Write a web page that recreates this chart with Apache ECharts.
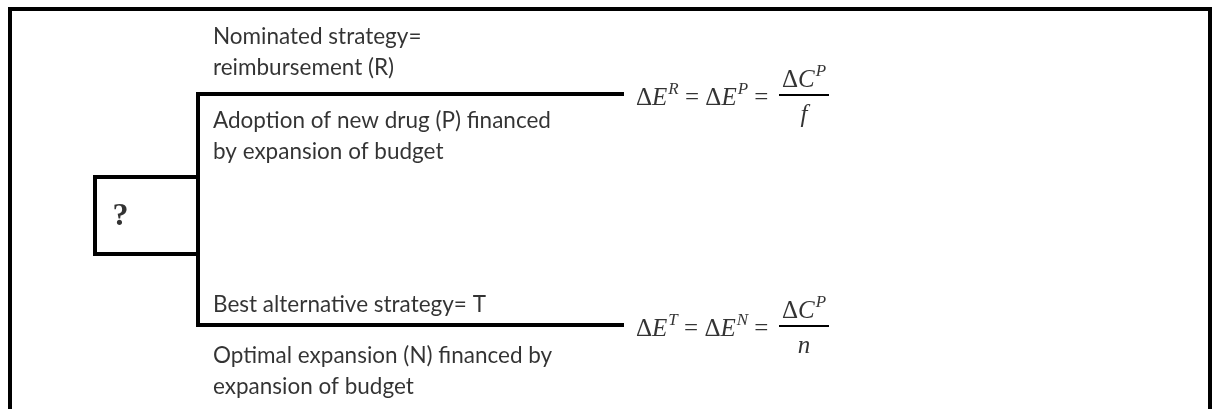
<!DOCTYPE html>
<html><head><meta charset="utf-8">
<script src="https://cdn.jsdelivr.net/npm/echarts@6/dist/echarts.min.js"></script>
<style>html,body{margin:0;padding:0;background:#fff}#c{width:1218px;height:409px}</style>
</head><body><div id="c"></div>
<script>
// ---- data ----
const rootLabel = '?';
const strategyLabels = ['Nominated strategy=\nreimbursement (R)', 'Best alternative strategy= T'];
const financingLabels = ['Adoption of new drug (P) financed\nby expansion of budget', 'Optimal expansion (N) financed by\nexpansion of budget'];
const effectSuperscripts = [['R', 'P'], ['T', 'N']];
const costSuperscripts = ['P', 'P'];
const denominators = ['f', 'n'];

// ---- layout (pixel units on hidden axes) ----
const W = 1218, H = 409;
const frame = { x0: 10, x1: 1210, y0: 9, y1: 430 };
const box = { x0: 95, x1: 198, y0: 177, y1: 254 };
const trunkX = 198, branchEnd = 622;
const branchY = [94, 325];
const textX = 213;
const aboveOffset = [-42, -20];
const belowOffset = [42, 46];
const formulaX = 636;
const fracX0 = 780, fracX1 = 828;
const formulaDy = 2, numDy = -18, denDy = 17;

const textFont = 'Lato';
const mathFont = 'Liberation Serif';

function seg(pts, w) {
  return { type: 'line', data: pts, symbol: 'none', silent: true, animation: false,
    lineStyle: { color: '#000', width: w, cap: 'square', join: 'miter' } };
}
const series = [];
series.push(seg([[frame.x0, frame.y1], [frame.x0, frame.y0], [frame.x1, frame.y0], [frame.x1, frame.y1]], 4));
series.push(seg([[box.x1, box.y0], [box.x0, box.y0], [box.x0, box.y1], [box.x1, box.y1]], 4));
series.push(seg([[branchEnd, branchY[0]], [trunkX, branchY[0]], [trunkX, branchY[1]], [branchEnd, branchY[1]]], 4));
branchY.forEach((y) => series.push(seg([[fracX0, y + formulaDy - 1], [fracX1, y + formulaDy - 1]], 2)));

function textSeries(points) {
  return { type: 'scatter', symbolSize: 0, silent: true, animation: false, data: points,
    label: { show: true, position: [0, 0], formatter: (p) => p.data.text, color: '#000' } };
}
const textPts = [];
textPts.push({ value: [(box.x0 + box.x1) / 2 - 26, (box.y0 + box.y1) / 2 + 1], text: rootLabel,
  label: { fontFamily: 'Liberation Serif', fontWeight: 'bold', fontSize: 32, align: 'center', verticalAlign: 'middle' } });
const plain = { fontFamily: textFont, fontSize: 22.5, lineHeight: 31, align: 'left', verticalAlign: 'middle' };
branchY.forEach((y, i) => {
  textPts.push({ value: [textX, y + aboveOffset[i]], text: strategyLabels[i], label: plain });
  textPts.push({ value: [textX, y + belowOffset[i]], text: financingLabels[i], label: plain });
});
const rich = {
  d: { fontFamily: mathFont, fontSize: 25, lineHeight: 30, verticalAlign: 'bottom' },
  i: { fontFamily: mathFont, fontStyle: 'italic', fontSize: 25, lineHeight: 30, verticalAlign: 'bottom' },
  s: { fontFamily: mathFont, fontStyle: 'italic', fontSize: 17, lineHeight: 28, verticalAlign: 'top', padding: [0, 0, 0, 1] },
  o: { fontFamily: mathFont, fontSize: 25, lineHeight: 30, verticalAlign: 'bottom' }
};
branchY.forEach((y, i) => {
  const [a, b] = effectSuperscripts[i];
  textPts.push({ value: [formulaX, y + formulaDy], text: `{d|Δ}{i|E}{s|${a}}{o| = }{d|Δ}{i|E}{s|${b}}{o| = }`,
    label: { align: 'left', verticalAlign: 'middle', rich } });
  textPts.push({ value: [(fracX0 + fracX1) / 2, y + formulaDy + numDy], text: `{d|Δ}{i|C}{s|${costSuperscripts[i]}}`,
    label: { align: 'center', verticalAlign: 'middle', rich } });
  textPts.push({ value: [(fracX0 + fracX1) / 2, y + formulaDy + denDy], text: `{i|${denominators[i]}}`,
    label: { align: 'center', verticalAlign: 'middle', rich } });
});
series.push(textSeries(textPts));

const chart = echarts.init(document.getElementById('c'), null, { renderer: 'canvas' });
chart.setOption({
  animation: false,
  backgroundColor: '#fff',
  grid: { left: 0, right: 0, top: 0, bottom: 0 },
  xAxis: { type: 'value', min: 0, max: W, show: false },
  yAxis: { type: 'value', min: 0, max: H, inverse: true, show: false },
  series
});
</script></body></html>
